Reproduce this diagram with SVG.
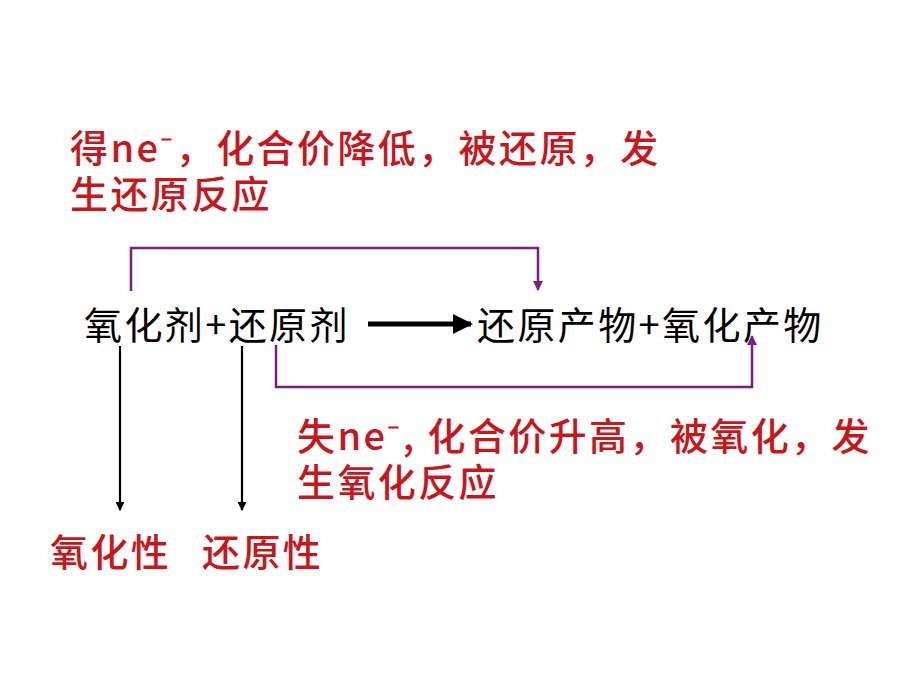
<svg xmlns="http://www.w3.org/2000/svg" width="920" height="690" viewBox="0 0 920 690">
<style>
.t{font-family:"Noto Sans CJK SC","Liberation Sans",sans-serif;font-size:38px;letter-spacing:2.4px;fill:#000}
.r{font-family:"Noto Sans CJK SC","Liberation Sans",sans-serif;font-size:38px;letter-spacing:2.4px;fill:#C8161D;font-weight:500}
.p{fill:none;stroke:#7A1F7E;stroke-width:2.5}
.k{fill:none;stroke:#000;stroke-width:2.2}
</style>
<defs>
<marker id="ap" viewBox="0 0 10 10" refX="9" refY="5" markerWidth="4" markerHeight="5" orient="auto" markerUnits="strokeWidth"><path d="M0,0 L10,5 L0,10 z" fill="#7A1F7E"/></marker>
<marker id="ak" viewBox="0 0 10 10" refX="9" refY="5" markerWidth="4" markerHeight="4" orient="auto" markerUnits="strokeWidth"><path d="M0,0 L10,5 L0,10 z" fill="#000"/></marker>
</defs>
<rect width="920" height="690" fill="#fff"/>
<g id="top-label">
<text class="r" x="70" y="162">得ne⁻，化合价降低，被还原，发<tspan x="70" dy="46">生还原反应</tspan></text>
</g>
<g id="reactants"><text class="t" x="84" y="339">氧化剂+还原剂</text></g>
<g id="products"><text class="t" x="477" y="339">还原产物+氧化产物</text></g>
<g id="bottom-label">
<text class="r" x="297" y="450">失ne⁻, 化合价升高，被氧化，发<tspan x="297" dy="46">生氧化反应</tspan></text>
</g>
<g id="oxidizing"><text class="r" x="50" y="566">氧化性</text></g>
<g id="reducing"><text class="r" x="202" y="566">还原性</text></g>
<g id="connectors">
<path class="p" d="M131,291 V248 H538 V290" marker-end="url(#ap)"/>
<path class="p" d="M276,345 V387 H752 V336" marker-end="url(#ap)"/>
<line x1="368" y1="324" x2="471" y2="324" stroke="#000" stroke-width="5" marker-end="url(#ak)"/>
<path class="k" d="M120,346 V510" marker-end="url(#ak)"/>
<path class="k" d="M242,346 V510" marker-end="url(#ak)"/>
</g>
</svg>
